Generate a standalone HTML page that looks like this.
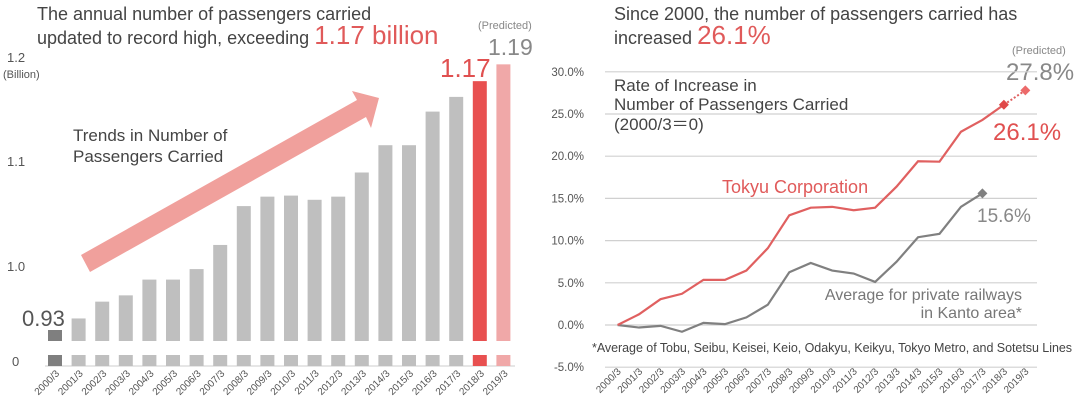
<!DOCTYPE html>
<html><head><meta charset="utf-8"><style>
body{margin:0;background:#fff;width:1080px;height:400px;overflow:hidden;font-family:"Liberation Sans",sans-serif}
svg text{font-family:"Liberation Sans",sans-serif}
</style></head><body>
<svg id="c" width="1080" height="400" xmlns="http://www.w3.org/2000/svg">
<g id="left">
<text x="37" y="20" font-size="18" fill="#444">The annual number of passengers carried</text>
<text x="37" y="44" font-size="18" fill="#444">updated to record high, exceeding <tspan font-size="26" fill="#e05a5a">1.17 billion</tspan></text>
<text x="7" y="62" font-size="13" fill="#555">1.2</text>
<text x="3" y="78" font-size="11" fill="#555">(Billion)</text>
<text x="7" y="166" font-size="13" fill="#555">1.1</text>
<text x="7" y="271" font-size="13" fill="#555">1.0</text>
<text x="12" y="366" font-size="13" fill="#555">0</text>
<polygon points="81,255 357,100 352,91 379,98 371,128 366,117 90,272" fill="#f0a09c"/>
<text x="73" y="141" font-size="17" fill="#444">Trends in Number of</text>
<text x="73" y="162" font-size="17" fill="#444">Passengers Carried</text>
<line x1="45" y1="366" x2="515" y2="366" stroke="#ccc" stroke-width="1"/>
<text x="22" y="326" font-size="22" fill="#555">0.93</text>
<text x="440" y="77" font-size="26" fill="#e05050">1.17</text>
<text x="488" y="55" font-size="23" fill="#888">1.19</text>
<text x="478" y="29" font-size="11" fill="#888">(Predicted)</text>
</g>
<g id="right">
<text x="614" y="20" font-size="18" fill="#444">Since 2000, the number of passengers carried has</text>
<text x="614" y="44" font-size="18" fill="#444">increased <tspan font-size="26" fill="#e05a5a">26.1%</tspan></text>
<text x="614" y="91" font-size="17" fill="#444">Rate of Increase in</text>
<text x="614" y="110" font-size="17" fill="#444">Number of Passengers Carried</text>
<text x="614" y="130" font-size="17" fill="#444">(2000/3＝0)</text>
<text x="722" y="193" font-size="18" fill="#e05a5a">Tokyu Corporation</text>
<text x="1022" y="300" font-size="16" fill="#777" text-anchor="end">Average for private railways</text>
<text x="1022" y="318" font-size="16" fill="#777" text-anchor="end">in Kanto area*</text>
<text x="592" y="352" font-size="12.5" fill="#444" textLength="480">*Average of Tobu, Seibu, Keisei, Keio, Odakyu, Keikyu, Tokyo Metro, and Sotetsu Lines</text>
<text x="1012" y="54" font-size="11" fill="#888">(Predicted)</text>
<text x="1006" y="80" font-size="24" fill="#888">27.8%</text>
<text x="993" y="140" font-size="24" fill="#e05050">26.1%</text>
<text x="977" y="222" font-size="19" fill="#888">15.6%</text>
</g>
</svg>
<script>
var NS='http://www.w3.org/2000/svg';
function mk(p,t,a){var e=document.createElementNS(NS,t);for(var k in a)e.setAttribute(k,a[k]);p.appendChild(e);return e;}
var years=['2000/3','2001/3','2002/3','2003/3','2004/3','2005/3','2006/3','2007/3','2008/3','2009/3','2010/3','2011/3','2012/3','2013/3','2014/3','2015/3','2016/3','2017/3','2018/3','2019/3'];
var passengers=[0.94,0.951,0.967,0.973,0.988,0.988,0.998,1.021,1.058,1.067,1.068,1.064,1.067,1.090,1.116,1.116,1.148,1.162,1.177,1.193];
var tokyuRate=[0,1.27,3.06,3.7,5.35,5.35,6.45,9.1,13.0,13.9,14.0,13.6,13.9,16.4,19.4,19.35,22.9,24.3,26.1,27.8];
var kantoRate=[0,-0.3,-0.1,-0.8,0.25,0.1,0.9,2.4,6.25,7.35,6.45,6.1,5.1,7.5,10.4,10.8,14.0,15.6];
var rateTicks=[30,25,20,15,10,5,0,-5];

var L=document.getElementById('left');
function bx(i){return 55+i*23.6;}
function by(v){return 267-(v-1.0)*1050;}
passengers.forEach(function(v,i){
  var col=i==0?'#7f7f7f':(i==18?'#e85050':(i==19?'#f0a8a8':'#bfbfbf'));
  var r=mk(L,'rect',{x:bx(i)-7,y:by(v),width:14,height:341-by(v),fill:col});
  
  
  var s=mk(L,'rect',{x:bx(i)-7,y:355,width:14,height:11,fill:col});
  
  
  var t=mk(L,'text',{x:bx(i)+5,y:374,'font-size':10,fill:'#555','text-anchor':'end',transform:'rotate(-45 '+(bx(i)+5)+' 374)'});
  t.textContent=years[i];
  
  
});

var R=document.getElementById('right');
function rx(i){return 617.6+i*21.46;}
function ry(v){return 325-v*8.44;}
rateTicks.forEach(function(v){
  var g=mk(R,'line',{x1:605,x2:1037,y1:ry(v),y2:ry(v),stroke:'#d0d0d0','stroke-width':1.2});
  
  
  var t=mk(R,'text',{x:584,y:ry(v)+4,'font-size':11.5,fill:'#555','text-anchor':'end'});
  t.textContent=v.toFixed(1)+'%';
  
  
});
years.forEach(function(y,i){
  var t=mk(R,'text',{x:rx(i)+4,y:372,'font-size':10,fill:'#555','text-anchor':'end',transform:'rotate(-45 '+(rx(i)+4)+' 372)'});
  t.textContent=y;
  
  
});
function pts(a,n){return a.slice(0,n).map(function(v,i){return rx(i)+','+ry(v);}).join(' ');}
var kl=mk(R,'polyline',{points:pts(kantoRate,kantoRate.length),fill:'none',stroke:'#808080','stroke-width':2.2});


var tl=mk(R,'polyline',{points:pts(tokyuRate,19),fill:'none',stroke:'#e06060','stroke-width':2.2});


var pl=mk(R,'line',{x1:rx(18),y1:ry(tokyuRate[18]),x2:rx(19),y2:ry(tokyuRate[19]),stroke:'#e06060','stroke-width':2,'stroke-dasharray':'2,2'});


function diamond(x,y,c,n){var d=mk(R,'polygon',{points:(x)+','+(y-5)+' '+(x+5)+','+y+' '+x+','+(y+5)+' '+(x-5)+','+y,fill:c});
  
  }
diamond(rx(18),ry(tokyuRate[18]),'#e04848','marker-2018');
diamond(rx(19),ry(tokyuRate[19]),'#ec6a6a','marker-2019-predicted');
diamond(rx(17),ry(kantoRate[17]),'#808080','marker-kanto-2017');
</script>
</body></html>
